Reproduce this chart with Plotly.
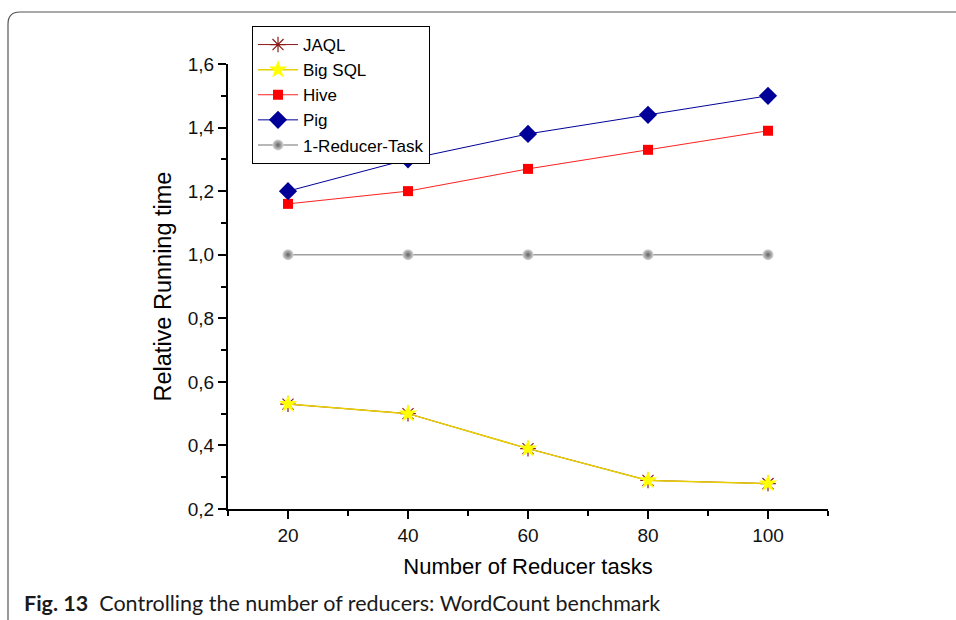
import plotly.graph_objects as go

x_tasks = [20, 40, 60, 80, 100]
jaql = [0.53, 0.50, 0.39, 0.29, 0.28]
bigsql = [0.53, 0.50, 0.39, 0.29, 0.28]
hive = [1.16, 1.20, 1.27, 1.33, 1.39]
pig = [1.20, 1.30, 1.38, 1.44, 1.50]
one_reducer = [1.0, 1.0, 1.0, 1.0, 1.0]

y_tickvals = [0.2, 0.4, 0.6, 0.8, 1.0, 1.2, 1.4, 1.6]
y_ticktext = ["0,2", "0,4", "0,6", "0,8", "1,0", "1,2", "1,4", "1,6"]
x_tickvals = [20, 40, 60, 80, 100]
x_ticktext = ["20", "40", "60", "80", "100"]

FONT = "Liberation Sans"

fig = go.Figure()
fig.add_trace(go.Scatter(x=x_tasks, y=jaql, name="JAQL", mode="lines+markers",
                         line=dict(color="#8B1A1A", width=1),
                         marker=dict(symbol="asterisk-open", size=13,
                                     line=dict(color="#8B1A1A", width=1.2))))
fig.add_trace(go.Scatter(x=x_tasks, y=bigsql, name="Big SQL", mode="lines+markers",
                         line=dict(color="#E8D000", width=1.5),
                         marker=dict(symbol="star", size=14, color="#FFFF00",
                                     line=dict(width=0))))
fig.add_trace(go.Scatter(x=x_tasks, y=hive, name="Hive", mode="lines+markers",
                         line=dict(color="#FF2020", width=1),
                         marker=dict(symbol="square", size=10, color="#FF0000",
                                     line=dict(width=0))))
fig.add_trace(go.Scatter(x=x_tasks, y=pig, name="Pig", mode="lines+markers",
                         line=dict(color="#000099", width=1),
                         marker=dict(symbol="diamond", size=14, color="#000099",
                                     line=dict(width=0))))
fig.add_trace(go.Scatter(x=x_tasks, y=one_reducer, name="1-Reducer-Task", mode="lines+markers",
                         line=dict(color="#A0A0A0", width=1.5),
                         marker=dict(symbol="circle", size=11, color="#D8D8D8",
                                     gradient=dict(type="radial", color="#606060"),
                                     line=dict(width=0))))

# frame geometry in paper units (plot area 228..828 x, 64..509 y)
L, T, R, B = 228, 64, 828, 509
W, H = R - L, B - T
def px(x):
    return (x - L) / W
def py(y):
    return (B - y) / H

x0, y0, x1, y1 = px(8), py(12), px(956), py(621)
rx, ry = 12 / W, 12 / H
path = (f"M {x0} {y1} L {x0} {y0 - ry} Q {x0} {y0} {x0 + rx} {y0} L {x1} {y0}")

fig.update_layout(
    width=956, height=620,
    margin=dict(l=L, r=956 - R, t=T, b=620 - B),
    paper_bgcolor="white", plot_bgcolor="white",
    font=dict(family=FONT, color="black", size=16),
    showlegend=True,
    legend=dict(x=px(252), y=py(26), xanchor="left", yanchor="top",
                bordercolor="black", borderwidth=1, bgcolor="white",
                font=dict(family=FONT, size=17, color="black"),
                tracegroupgap=0, itemwidth=40),
    xaxis=dict(range=[10, 110], tickvals=x_tickvals, ticktext=x_ticktext,
               showgrid=False, zeroline=False, showline=True, linecolor="black",
               linewidth=2, ticks="outside", ticklen=8, tickwidth=2, tickcolor="black",
               minor=dict(ticks="outside", tickvals=[10, 30, 50, 70, 90, 110],
                          ticklen=5, tickwidth=2, tickcolor="black"),
               tickfont=dict(family=FONT, size=19, color="#111111"),
               title=dict(text="Number of Reducer tasks",
                          font=dict(family=FONT, size=22, color="black"), standoff=14)),
    yaxis=dict(range=[0.2, 1.6], tickvals=y_tickvals, ticktext=y_ticktext,
               showgrid=False, zeroline=False, showline=True, linecolor="black",
               linewidth=2, ticks="outside", ticklen=8, tickwidth=2, tickcolor="black",
               minor=dict(ticks="outside", tickvals=[0.3, 0.5, 0.7, 0.9, 1.1, 1.3, 1.5],
                          ticklen=5, tickwidth=2, tickcolor="black"),
               tickfont=dict(family=FONT, size=19, color="#111111"),
               title=dict(text="Relative Running time",
                          font=dict(family=FONT, size=23.5, color="black"), standoff=10)),
    shapes=[dict(type="path", xref="paper", yref="paper", path=path,
                 line=dict(color="#555555", width=1.2), layer="above")],
    annotations=[dict(xref="paper", yref="paper", x=px(22), y=py(603),
                      xanchor="left", yanchor="middle", showarrow=False,
                      text="<b>Fig. 13</b>  Controlling the number of reducers: WordCount benchmark",
                      font=dict(family="Lato", size=21.5, color="#1a1a1a"))],
)

fig.write_html("out.html")
